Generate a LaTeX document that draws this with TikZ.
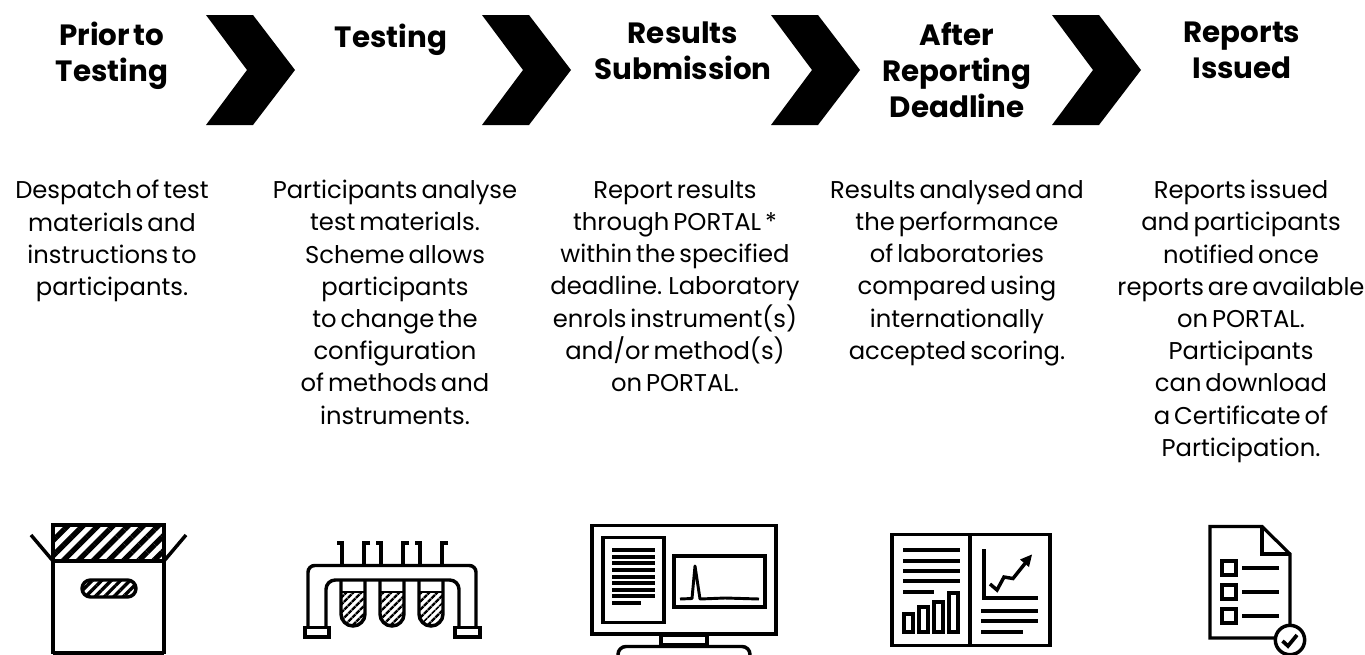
\documentclass[tikz,border=0pt]{standalone}
\usepackage{fontspec}
\setmainfont{Poppins}[WordSpace=0.6]
\usetikzlibrary{patterns.meta,arrows.meta}
\tikzset{
  x=0.75pt,y=-0.75pt,
  ico/.style={draw=black,line width=2.6pt,line join=miter},
  thin ico/.style={draw=black,line width=2.2pt},
  bar/.style={draw=black,line width=2.6pt},
  chev/.style={fill=black,draw=none},
  head/.style={font=\fontsize{22}{27}\selectfont\bfseries,align=center,anchor=north,inner sep=0pt,execute at begin node=\strut},
  body/.style={font=\fontsize{18.2}{24.15}\selectfont,align=center,anchor=north,inner sep=0pt,execute at begin node=\strut},
  hatch/.style={pattern={Lines[angle=45,distance=8pt,line width=4pt]},pattern color=black},
  hatch small/.style={pattern={Lines[angle=45,distance=5pt,line width=2.5pt]},pattern color=black},
  hatch tiny/.style={pattern={Lines[angle=45,distance=4pt,line width=2pt]},pattern color=black},
}
\begin{document}
\begin{tikzpicture}
\useasboundingbox (0,0) rectangle (1365,654);
\foreach \a in {206,482,771,1052}{
  \fill[chev] (\a,15) -- (\a+47,15) -- (\a+89,70) -- (\a+47,125) -- (\a,125) -- (\a+41,70) -- cycle;
}
\node[head] (h1) at (112,22) {Prior to\\Testing};
\node[head] (h2) at (391,22) {Testing};
\node[head] (h3) at (683,22) {Results\\Submission};
\node[head] (h4) at (957,22) {After\\Reporting\\Deadline};
\node[head] (h5) at (1242,22) {Reports\\Issued};
\node[body] (b1) at (112,180) {Despatch of test\\materials and\\instructions to\\participants.};
\node[body] (b2) at (395,180) {Participants analyse\\test materials.\\Scheme allows\\participants\\to change the\\configuration\\of methods and\\instruments.};
\node[body] (b3) at (675,180) {Report results\\through PORTAL *\\within the specified\\deadline. Laboratory\\enrols instrument(s)\\and/or method(s)\\on PORTAL.};
\node[body] (b4) at (957,180) {Results analysed and\\the performance\\of laboratories\\compared using\\internationally\\accepted scoring.};
\node[body] (b5) at (1241,180) {Reports issued\\and participants\\notified once\\reports are available\\on PORTAL.\\Participants\\can download\\a Certificate of\\Participation.};
% box
\fill[hatch] (53,525) rectangle (164,561);
\draw[ico] (53,525) rectangle (164,561);
\draw[ico] (53,561) -- (53,654) (164,561) -- (164,654) (53,653) -- (164,653);
\draw[ico] (53,561) -- (31,535) (164,561) -- (186,535);
\fill[hatch small,rounded corners=6.5pt] (82,580) rectangle (136,597);
\draw[ico,rounded corners=6.5pt] (82,580) rectangle (136,597);
% rack
\foreach \c in {353,392,431}{
  \fill[hatch tiny] (\c-12,592) -- (\c+12,592) -- (\c+12,614) arc[start angle=0,end angle=-180,radius=9pt] -- cycle;
  \draw[ico] (\c-12,580) -- (\c-12,614) arc[start angle=180,end angle=360,radius=9pt] -- (\c+12,580);
  \draw[thin ico] (\c-12,592) -- (\c+12,592);
  \draw[ico] (\c-16,543) -- (\c-11,543) -- (\c-11,565);
  \draw[ico] (\c+17,543) -- (\c+11,543) -- (\c+11,565);
}
\draw[ico,rounded corners=5pt] (308,627) -- (308,565.5) -- (476,565.5) -- (476,627);
\draw[ico,rounded corners=7pt] (326,627) -- (326,580) -- (459,580) -- (459,627);
\draw[ico] (305,627.5) rectangle (329,637);
\draw[ico] (455,627.5) rectangle (480,637);
% monitor
\draw[ico] (592,525.5) rectangle (776,634);
\draw[ico] (603,537.5) rectangle (664,622.5);
\draw[ico] (674,556) rectangle (765,607);
\foreach \y in {550,557,563,570,577,583,590,596}{\draw[bar,line width=3pt] (612,\y) -- (655,\y);}
\draw[bar,line width=3pt] (612,603) -- (641,603);
\draw[bar,line width=2.2pt,line join=round] (680,599) -- (692,598.5) -- (695,566) -- (700,599) -- (725,598) -- (759,599);
\draw[ico] (661,635) rectangle (707,645);
\draw[ico,rounded corners=6pt] (618,670) -- (618,646.5) -- (750,646.5) -- (750,670);
% report
\draw[ico] (892,534.5) rectangle (1050,645.5);
\draw[ico] (970,534.5) -- (970,645.5);
\foreach \y in {550,561,571,581}{\draw[bar] (903,\y) -- (960,\y);}
\draw[bar] (903,592) -- (934,592);
\draw[ico] (904,614) rectangle (913,632);
\draw[ico] (919,607) rectangle (928,632);
\draw[ico] (934,602) rectangle (943,632);
\draw[ico] (949,593) rectangle (958,632);
\draw[ico] (984,549) -- (984,598) -- (1038,598);
\foreach \y in {611,621}{\draw[bar] (981,\y) -- (1038,\y);}
\draw[bar] (981,632) -- (1023,632);
\draw[ico] (990,584) -- (997,590) -- (1004,577) -- (1013,578.5) -- (1027,561);
\fill (1032,554.5) -- (1029,567) -- (1020,559.5) -- cycle;
% checklist
\draw[ico,line width=2.4pt] (1275,638) -- (1210,638) -- (1210,526.5) -- (1262,526.5) -- (1290,554) -- (1290,626);
\draw[ico,line width=2.4pt] (1262,526.5) -- (1262,554) -- (1290,554);
\foreach \y in {561,585,609}{
  \draw[ico] (1222,\y) rectangle (1236,\y+14);
  \draw[bar] (1242,\y+7) -- (1279,\y+7);
}
\draw[ico,fill=white] (1290,640) circle[radius=11pt];
\draw[ico,line width=2.8pt] (1282.5,641) -- (1288,646) -- (1297,635);
\end{tikzpicture}
\end{document}
